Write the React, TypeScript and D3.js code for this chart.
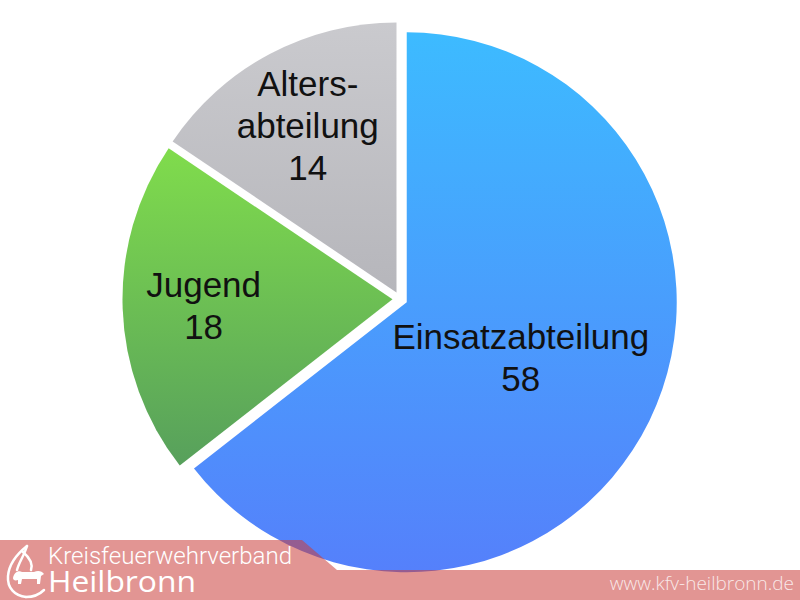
import React from 'react';
import * as d3 from 'd3';

// Mitglieder nach Abteilung
const categories = ['Einsatzabteilung', 'Jugend', 'Altersabteilung'];
const labelLines = [['Einsatzabteilung'], ['Jugend'], ['Alters-', 'abteilung']];
const values = [58, 18, 14];
const gradientStops = [
    ['#3dbbff', '#5580fb'],
    ['#80dc4c', '#57a05c'],
    ['#cacace', '#b6b6bb']
];

const footerTitle = 'Kreisfeuerwehrverband';
const footerName = 'Heilbronn';
const footerUrl = 'www.kfv-heilbronn.de';

const width = 800;
const height = 600;

const App: React.FC = () => {
    const cx = 400;
    const cy = 299;
    const radius = 270;
    const explode = 7.5;
    const total = d3.sum(values);

    const pie = d3.pie<number>()
        .sort(null)
        .startAngle(0)
        .endAngle(2 * Math.PI);
    const arcs = pie(values);

    const arc = d3.arc<d3.PieArcDatum<number>>()
        .innerRadius(0)
        .outerRadius(radius);

    const fontSize = 35;
    const lineHeight = 42;
    const capHeight = 25;

    return (
        <div style={{ position: 'absolute', left: 0, top: 0 }}>
            <svg width={width} height={height} style={{ display: 'block', background: '#fff' }}>
                <defs>
                    {gradientStops.map((s, i) => (
                        <linearGradient key={i} id={`grad-${i}`} x1="0" y1="0" x2="0" y2="1">
                            <stop offset="0%" stopColor={s[0]} />
                            <stop offset="100%" stopColor={s[1]} />
                        </linearGradient>
                    ))}
                </defs>

                <g transform={`translate(${cx},${cy})`}>
                    {arcs.map((d, i) => {
                        const mid = (d.startAngle + d.endAngle) / 2;
                        const dx = Math.sin(mid) * explode;
                        const dy = -Math.cos(mid) * explode;
                        const share = d.data / total;
                        const lr = radius * (share > 0.5 ? 0.47 : 0.7);
                        const lx = dx + Math.sin(mid) * lr;
                        const ly = dy - Math.cos(mid) * lr;
                        const lines = [...labelLines[i], String(values[i])];
                        const blockH = capHeight + (lines.length - 1) * lineHeight;
                        const firstBase = ly - blockH / 2 + capHeight;
                        return (
                            <g key={categories[i]}>
                                <path
                                    d={arc(d) || ''}
                                    transform={`translate(${dx},${dy})`}
                                    fill={`url(#grad-${i})`}
                                />
                                <text
                                    textAnchor="middle"
                                    fontFamily="'Liberation Sans', Arial, sans-serif"
                                    fontSize={fontSize}
                                    fill="#111"
                                >
                                    {lines.map((t, j) => (
                                        <tspan key={j} x={lx} y={firstBase + j * lineHeight}>{t}</tspan>
                                    ))}
                                </text>
                            </g>
                        );
                    })}
                </g>

                {/* footer band */}
                <path
                    d="M0,540 L302,540 L337,570 L800,570 L800,600 L0,600 Z"
                    fill="rgb(202,62,59)"
                    fillOpacity={0.55}
                />

                {/* logo: flame with lion */}
                <g fill="none" stroke="#fff" strokeWidth={2.5} strokeLinecap="round">
                    <path d="M27,546 C17,554 9,564 8,576 C7,588 15,596 26,597" />
                    <path d="M27,546 C24,556 19,562 17,570" />
                    <path d="M23,552 C30,558 33,564 31,570" />
                    <path d="M26,597 C34,597 40,594 44,590" />
                </g>
                <path
                    d="M13,578 C14,573 18,570 22,572 L34,572 C38,570 42,571 44,574 L41,576 L40,584 L37,584 L37,579 L22,579 L21,584 L18,584 L18,580 C15,581 13,580 13,578 Z"
                    fill="#fff"
                />

                <text
                    x={48}
                    y={564}
                    fontFamily="Roboto, 'Open Sans', sans-serif"
                    fontWeight={300}
                    fontSize={24}
                    fill="#fff"
                    textLength={244}
                    lengthAdjust="spacingAndGlyphs"
                >
                    {footerTitle}
                </text>
                <text
                    x={48}
                    y={592}
                    fontFamily="'Open Sans', Roboto, sans-serif"
                    fontWeight={400}
                    fontSize={29}
                    fill="#fff"
                    textLength={148}
                    lengthAdjust="spacingAndGlyphs"
                >
                    {footerName}
                </text>
                <text
                    x={794}
                    y={590}
                    textAnchor="end"
                    fontFamily="'Open Sans', Roboto, sans-serif"
                    fontWeight={300}
                    fontSize={19}
                    fill="#fff"
                    fillOpacity={0.8}
                >
                    {footerUrl}
                </text>
            </svg>
        </div>
    );
};

export default App;
